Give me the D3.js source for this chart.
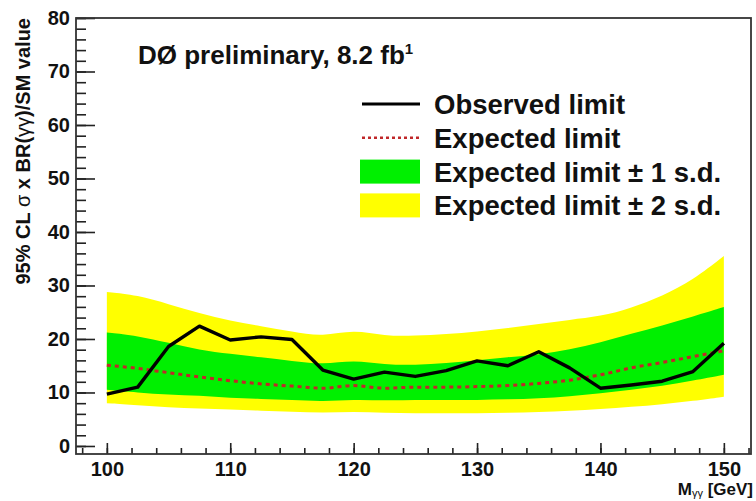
<!DOCTYPE html>
<html>
<head>
<meta charset="utf-8">
<script src="https://cdn.jsdelivr.net/npm/d3@7"></script>
<style>
  body { margin: 0; background: #fff; }
  text { font-family: "Liberation Sans", Arial, Helvetica, sans-serif; font-weight: bold; fill: #111; }
</style>
</head>
<body>
<svg id="chart" width="756" height="501"></svg>
<script>

/*************************** Data ***************************/

var masses   = [100, 102.5, 105, 107.5, 110, 112.5, 115, 117.5, 120, 122.5, 125, 127.5, 130, 132.5, 135, 137.5, 140, 142.5, 145, 147.5, 150];
var observed = [9.7, 11.0, 18.6, 22.4, 19.8, 20.4, 19.9, 14.2, 12.5, 13.8, 13.0, 14.1, 15.9, 15.0, 17.6, 14.6, 10.8, 11.4, 12.1, 13.9, 19.2];
var expected = [15.1, 14.5, 13.7, 12.9, 12.2, 11.6, 11.2, 10.8, 11.3, 10.8, 11.0, 11.0, 11.1, 11.3, 11.7, 12.3, 13.3, 14.6, 15.6, 16.7, 17.8];
var plus1sd  = [21.2, 20.6, 19.3, 17.9, 17.2, 16.6, 15.9, 15.2, 16.1, 15.2, 15.1, 15.5, 16.0, 16.6, 17.1, 18.0, 19.3, 21.0, 22.5, 24.2, 26.0];
var minus1sd = [10.5, 10.0, 9.6, 9.4, 9.0, 8.8, 8.6, 8.3, 8.7, 8.5, 8.6, 8.6, 8.6, 8.7, 8.9, 9.3, 9.8, 10.5, 11.2, 12.2, 13.3];
var plus2sd  = [28.8, 28.2, 26.5, 24.8, 23.4, 22.4, 21.4, 20.4, 21.8, 20.5, 20.6, 20.9, 21.4, 22.0, 22.8, 23.6, 24.2, 25.8, 28.0, 31.0, 35.5];
var minus2sd = [8.0, 7.6, 7.2, 7.0, 6.8, 6.6, 6.4, 6.2, 6.4, 6.2, 6.1, 6.1, 6.1, 6.2, 6.3, 6.6, 6.9, 7.3, 7.8, 8.4, 9.2];

var xTicks = [100, 110, 120, 130, 140, 150];
var yTicks = [0, 10, 20, 30, 40, 50, 60, 70, 80];
var legendLabels = ["Observed limit", "Expected limit", "Expected limit \u00b1 1 s.d.", "Expected limit \u00b1 2 s.d."];

var rows = masses.map(function(m, i){
  return { m: m, obs: observed[i], exp: expected[i], hi1: plus1sd[i], lo1: minus1sd[i], hi2: plus2sd[i], lo2: minus2sd[i] };
});

/*************************** Scales ***************************/

var svg = d3.select("#chart");
var frame = { left: 76, top: 18, right: 751, bottom: 454 };

var x = d3.scaleLinear().domain([97.5, 152.2]).range([frame.left, frame.right]);
var y = d3.scaleLinear().domain([-1.5, 80]).range([frame.bottom, frame.top]);

var green = "#00f000", yellow = "#ffff00", red = "#c0282a";

/*************************** Bands and lines ***************************/

var band2 = d3.area().x(function(d){ return x(d.m); }).y0(function(d){ return y(d.lo2); }).y1(function(d){ return y(d.hi2); }).curve(d3.curveBasis);
var band1 = d3.area().x(function(d){ return x(d.m); }).y0(function(d){ return y(d.lo1); }).y1(function(d){ return y(d.hi1); }).curve(d3.curveBasis);

svg.append("path").datum(rows).attr("d", band2).style("fill", yellow);
svg.append("path").datum(rows).attr("d", band1).style("fill", green);

var expLine = d3.line().x(function(d){ return x(d.m); }).y(function(d){ return y(d.exp); }).curve(d3.curveMonotoneX);
var obsLine = d3.line().x(function(d){ return x(d.m); }).y(function(d){ return y(d.obs); });

svg.append("path").datum(rows).attr("d", expLine)
  .style("fill", "none").style("stroke", red).style("stroke-width", 3).style("stroke-dasharray", "4,4");

svg.append("path").datum(rows).attr("d", obsLine)
  .style("fill", "none").style("stroke", "#000").style("stroke-width", 3.4).style("stroke-linejoin", "round");

/*************************** Axes ***************************/

var xMinor = svg.append("g").attr("transform", "translate(0," + frame.bottom + ")")
  .call(d3.axisBottom(x).tickValues(d3.range(98, 153, 2)).tickSizeInner(-6).tickSizeOuter(0).tickFormat(""));
var xMajor = svg.append("g").attr("transform", "translate(0," + frame.bottom + ")")
  .call(d3.axisBottom(x).tickValues(xTicks).tickSizeInner(-11).tickSizeOuter(0).tickPadding(8));

var yMinor = svg.append("g").attr("transform", "translate(" + frame.left + ",0)")
  .call(d3.axisLeft(y).tickValues(d3.range(0, 81, 2)).tickSizeInner(-10).tickSizeOuter(0).tickFormat(""));
var yMajor = svg.append("g").attr("transform", "translate(" + frame.left + ",0)")
  .call(d3.axisLeft(y).tickValues(yTicks).tickSizeInner(-19).tickSizeOuter(0).tickPadding(6));

[xMinor, xMajor, yMinor, yMajor].forEach(function(g){
  g.select(".domain").remove();
  g.selectAll("line").style("stroke", "#222").style("stroke-width", 1.6);
  g.selectAll("text").style("font-size", "20px").style("font-family", "\"Liberation Sans\", Arial, sans-serif").style("font-weight", "bold").style("fill", "#111");
});

svg.append("rect")
  .attr("x", frame.left).attr("y", frame.top)
  .attr("width", frame.right - frame.left).attr("height", frame.bottom - frame.top)
  .style("fill", "none").style("stroke", "#333").style("stroke-width", 1.8);

/*************************** Titles ***************************/

var title = svg.append("text").attr("x", 138).attr("y", 64).style("font-size", "26px");
title.append("tspan").text("D\u00d8 preliminary, 8.2 fb");
title.append("tspan").attr("dy", -10).style("font-size", "15px").text("1");

var yTitle = svg.append("text")
  .attr("transform", "translate(30," + frame.top + ") rotate(-90)")
  .attr("text-anchor", "end").style("font-size", "20px");
yTitle.append("tspan").text("95% CL ");
yTitle.append("tspan").style("font-weight", "normal").text("\u03c3");
yTitle.append("tspan").text(" x BR(");
yTitle.append("tspan").style("font-weight", "normal").text("\u03b3\u03b3");
yTitle.append("tspan").text(")/SM value");

// x title sits just under the "150" label, right-aligned on the frame
var xTitle = svg.append("text").attr("x", 753).attr("y", 495).attr("text-anchor", "end").style("font-size", "17px");
xTitle.append("tspan").text("M");
xTitle.append("tspan").attr("dy", 2).style("font-size", "11px").style("font-weight", "normal").text("\u03b3\u03b3");
xTitle.append("tspan").attr("dy", -2).text(" [GeV]");

/*************************** Legend ***************************/

var rowGap = 33.8;
var legend = svg.append("g").attr("transform", "translate(360,104)");
var legendRow = legend.selectAll("g.row").data(legendLabels).enter().append("g")
  .attr("class", "row")
  .attr("transform", function(d, i){ return "translate(0," + (i * rowGap) + ")"; });

legendRow.append("text").attr("x", 74).attr("dy", "0.36em").style("font-size", "27.5px").text(function(d){ return d; });

legend.append("line").attr("x1", 2).attr("x2", 60).attr("y1", 0).attr("y2", 0)
  .style("stroke", "#000").style("stroke-width", 3);
legend.append("line").attr("x1", 2).attr("x2", 60).attr("y1", rowGap).attr("y2", rowGap)
  .style("stroke", red).style("stroke-width", 2.5).style("stroke-dasharray", "3,3");
legend.append("rect").attr("x", 0).attr("y", 2 * rowGap - 12).attr("width", 60).attr("height", 24).style("fill", green);
legend.append("rect").attr("x", 0).attr("y", 3 * rowGap - 12).attr("width", 60).attr("height", 24).style("fill", yellow);

</script>
</body>
</html>
